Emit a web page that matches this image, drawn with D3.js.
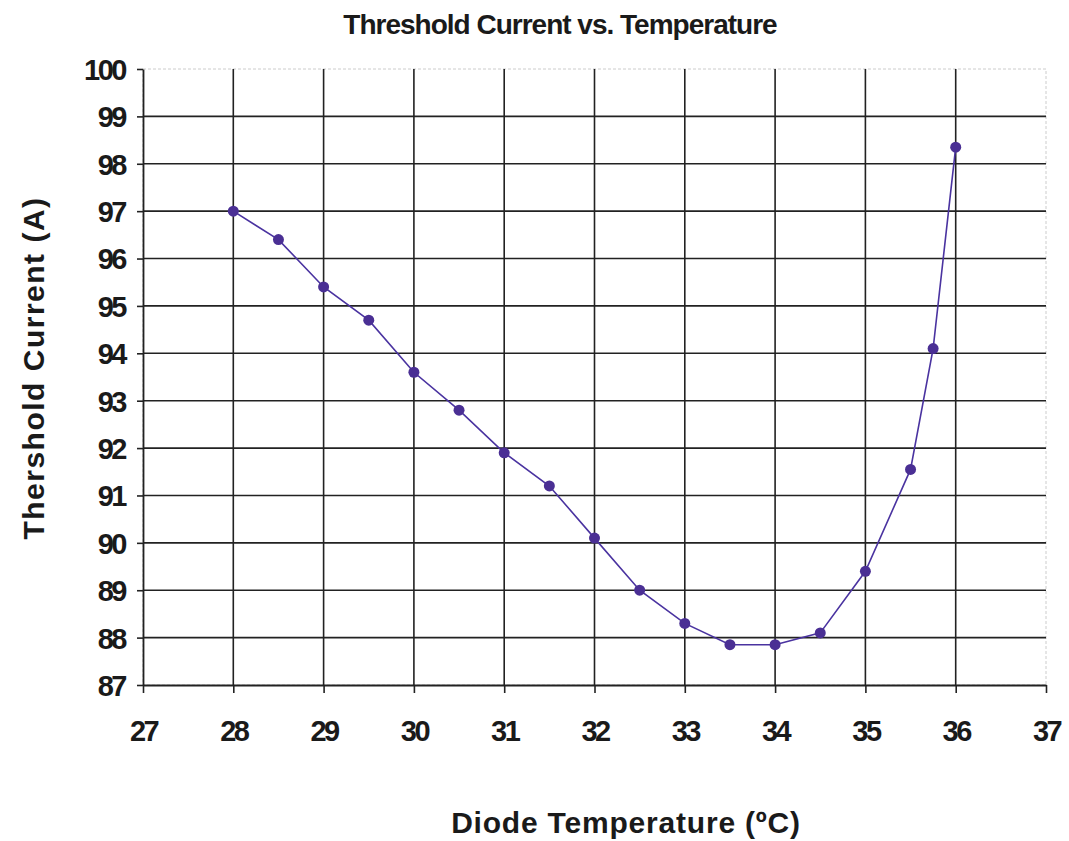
<!DOCTYPE html>
<html>
<head>
<meta charset="utf-8">
<script src="https://cdn.jsdelivr.net/npm/d3@7"></script>
<style>
  body { margin: 0; background: #fff; }
  text { font-family: "Liberation Sans", Arial, sans-serif; fill: #1a1a1a; }
</style>
</head>
<body>
<div class="chartBox"></div>
<script>
// data
var temps = [28, 28.5, 29, 29.5, 30, 30.5, 31, 31.5, 32, 32.5, 33, 33.5, 34, 34.5, 35, 35.5, 35.75, 36];
var currents = [97.0, 96.4, 95.4, 94.7, 93.6, 92.8, 91.9, 91.2, 90.1, 89.0, 88.3, 87.85, 87.85, 88.1, 89.4, 91.55, 94.1, 98.35];
var xTicks = [27, 28, 29, 30, 31, 32, 33, 34, 35, 36, 37];
var yTicks = [87, 88, 89, 90, 91, 92, 93, 94, 95, 96, 97, 98, 99, 100];

var W = 1069, H = 841;
var pLeft = 143, pRight = 1046, pTop = 69, pBottom = 685;

var svg = d3.select('div.chartBox')
  .append('svg')
  .attr('width', W)
  .attr('height', H);

var x = d3.scaleLinear().domain([27, 37]).range([pLeft, pRight]);
var y = d3.scaleLinear().domain([87, 100]).range([pBottom, pTop]);

// plot border (light on top/right)
svg.append('rect')
  .attr('x', pLeft).attr('y', pTop)
  .attr('width', pRight - pLeft).attr('height', pBottom - pTop)
  .attr('fill', 'none').attr('stroke', '#ccc').attr('stroke-width', 1)
  .attr('stroke-dasharray', '3,2');

// gridlines
svg.selectAll('line.hgrid')
  .data(yTicks.slice(1, -1))
  .enter().append('line')
  .attr('class', 'hgrid')
  .attr('x1', pLeft).attr('x2', pRight)
  .attr('y1', function(d) { return y(d); })
  .attr('y2', function(d) { return y(d); })
  .attr('stroke', '#222').attr('stroke-width', 1.6);

svg.selectAll('line.vgrid')
  .data(xTicks.slice(1, -1))
  .enter().append('line')
  .attr('class', 'vgrid')
  .attr('y1', pTop).attr('y2', pBottom)
  .attr('x1', function(d) { return x(d); })
  .attr('x2', function(d) { return x(d); })
  .attr('stroke', '#222').attr('stroke-width', 1.6);

// axes
var xAxis = svg.append('g')
  .attr('transform', 'translate(0,' + pBottom + ')')
  .call(d3.axisBottom(x).tickValues(xTicks).tickSize(8).tickPadding(22).tickSizeOuter(0));
var yAxis = svg.append('g')
  .attr('transform', 'translate(' + pLeft + ',0)')
  .call(d3.axisLeft(y).tickValues(yTicks).tickSize(6).tickPadding(12).tickSizeOuter(0));

[xAxis, yAxis].forEach(function(g) {
  g.select('.domain').attr('stroke', '#222').attr('stroke-width', 1.8);
  g.selectAll('.tick line').attr('stroke', '#222').attr('stroke-width', 1.6);
  g.selectAll('.tick text')
    .attr('fill', '#1a1a1a')
    .style('font-family', '"Liberation Sans", Arial, sans-serif')
    .style('font-weight', 'bold')
    .style('font-size', '29px')
    .style('letter-spacing', '-2.5px');
});
yAxis.selectAll('.tick text').attr('dy', '0.36em');
xAxis.selectAll('.tick text').attr('dy', '0.9em');

// line + markers
var line = d3.line()
  .x(function(d, i) { return x(temps[i]); })
  .y(function(d) { return y(d); });

svg.append('path')
  .datum(currents)
  .attr('d', line)
  .attr('fill', 'none')
  .attr('stroke', '#4a33a0')
  .attr('stroke-width', 1.6);

svg.selectAll('circle.pt')
  .data(currents)
  .enter().append('circle')
  .attr('class', 'pt')
  .attr('cx', function(d, i) { return x(temps[i]); })
  .attr('cy', function(d) { return y(d); })
  .attr('r', 5.5)
  .attr('fill', '#4a2f94');

// titles
svg.append('text')
  .attr('x', 560).attr('y', 34)
  .attr('text-anchor', 'middle')
  .style('font-weight', 'bold')
  .style('font-size', '28px')
  .style('letter-spacing', '-1px')
  .text('Threshold Current vs. Temperature');

svg.append('text')
  .attr('x', 626).attr('y', 833)
  .attr('text-anchor', 'middle')
  .style('font-weight', 'bold')
  .style('font-size', '30px')
  .style('letter-spacing', '0.8px')
  .text('Diode Temperature (ºC)');

svg.append('text')
  .attr('transform', 'translate(44,368) rotate(-90)')
  .attr('text-anchor', 'middle')
  .style('font-weight', 'bold')
  .style('font-size', '30px')
  .style('letter-spacing', '1.5px')
  .text('Thershold  Current  (A)');
</script>
</body>
</html>
